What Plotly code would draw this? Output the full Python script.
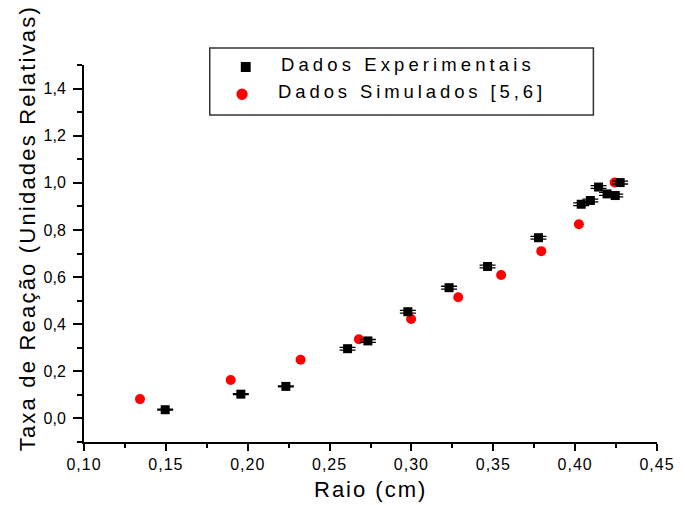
import plotly.graph_objects as go

# ---- data ----
exp_x = [0.1496, 0.1958, 0.2233, 0.2610, 0.2734, 0.2978, 0.3230, 0.3465,
         0.3776, 0.4037, 0.4093, 0.4143, 0.4195, 0.4245, 0.4275]
exp_y = [0.037, 0.103, 0.136, 0.296, 0.329, 0.453, 0.555, 0.645,
         0.767, 0.909, 0.925, 0.982, 0.953, 0.946, 1.001]
exp_err = [0.002, 0.002, 0.002, 0.006, 0.006, 0.006, 0.006, 0.006,
           0.006, 0.006, 0.006, 0.006, 0.006, 0.006, 0.006]
sim_x = [0.1342, 0.1896, 0.2323, 0.2679, 0.2998, 0.3286, 0.3548, 0.3793, 0.4023, 0.4241]
sim_y = [0.082, 0.163, 0.249, 0.336, 0.422, 0.514, 0.609, 0.710, 0.824, 1.001]

names = ["Dados Experimentais", "Dados Simulados [5,6]"]
x_title = "Raio (cm)"
y_title = "Taxa de Reação (Unidades Relativas)"

W, H = 685, 505
L, R, T, B = 84, 20, 65, 63
PW, PH = W - L - R, H - T - B

def px(xp):
    return (xp - L) / PW

def py(yp):
    return (H - B - yp) / PH

FONT = "Liberation Sans, Arial, sans-serif"

fig = go.Figure()
fig.add_trace(go.Scatter(
    x=sim_x, y=sim_y, mode="markers", name=names[1], showlegend=False,
    marker=dict(symbol="circle", size=10, color="#ff0000", line=dict(width=0)),
    cliponaxis=False))
fig.add_trace(go.Scatter(
    x=exp_x, y=exp_y, mode="markers", name=names[0], showlegend=False,
    marker=dict(symbol="square", size=9, color="black", line=dict(width=0)),
    error_y=dict(type="data", array=exp_err, visible=True, color="black",
                 thickness=1.3, width=8),
    cliponaxis=False))

axis_common = dict(showgrid=False, zeroline=False, showline=True, linecolor="black",
                   linewidth=2, ticks="outside", tickcolor="black", tickwidth=2,
                   mirror=False, tickfont=dict(family=FONT, size=16, color="black"))

fig.update_xaxes(range=[0.10, 0.45], tick0=0.10, dtick=0.05, tickformat=".2f", ticklen=7,
                 minor=dict(dtick=0.025, ticks="outside", ticklen=4, tickwidth=1.5,
                            tickcolor="black"),
                 **axis_common)
fig.update_yaxes(range=[-0.1, 1.5], tick0=0.0, dtick=0.2, tickformat=".1f", ticklen=9,
                 ticklabelstandoff=4,
                 minor=dict(dtick=0.1, ticks="outside", ticklen=5, tickwidth=1.5,
                            tickcolor="black"),
                 **axis_common)

shapes = [
    dict(type="rect", xref="paper", yref="paper", x0=px(211.5), x1=px(600.5),
         y0=py(115), y1=py(48), line=dict(color="#333333", width=1.5),
         fillcolor="rgba(0,0,0,0)"),
    dict(type="rect", xref="paper", yref="paper", x0=px(243), x1=px(253),
         y0=py(72), y1=py(62), line=dict(width=0), fillcolor="black"),
    dict(type="circle", xref="paper", yref="paper", x0=px(238.5), x1=px(250),
         y0=py(100), y1=py(88.5), line=dict(width=0), fillcolor="#ff0000"),
]

annotations = [
    dict(text=y_title, xref="paper", yref="paper", x=px(26), y=py(228),
         xanchor="center", yanchor="middle", textangle=-90, showarrow=False,
         font=dict(family=FONT, size=22, color="black")),
    dict(text=x_title, xref="paper", yref="paper", x=px(375), y=py(489),
         xanchor="center", yanchor="middle", showarrow=False,
         font=dict(family=FONT, size=22, color="black")),
    dict(text=names[0], xref="paper", yref="paper", x=px(282), y=py(64),
         xanchor="left", yanchor="middle", align="left", showarrow=False,
         font=dict(family=FONT, size=18.5, color="black")),
    dict(text=names[1], xref="paper", yref="paper", x=px(279), y=py(92),
         xanchor="left", yanchor="middle", align="left", showarrow=False,
         font=dict(family=FONT, size=18.5, color="black")),
]

fig.update_layout(
    width=W, height=H, margin=dict(l=L, r=R, t=T, b=B, pad=0),
    paper_bgcolor="white", plot_bgcolor="white", separators=",.",
    shapes=shapes, annotations=annotations, showlegend=False,
    font=dict(family=FONT, color="black"),
)

post = """
document.body.style.margin = '0';
document.body.style.padding = '0';
var sp = ['2.2px', '2px', '4.1px', '3.9px'];
var els = document.querySelectorAll('.annotation-text');
els.forEach(function(e, i){ if (i < sp.length) { e.style.letterSpacing = sp[i]; } });
document.querySelectorAll('.xtick text').forEach(function(e){ e.style.letterSpacing = '1px'; });
"""

fig.write_html("out.html", post_script=post, config={"displayModeBar": False})
